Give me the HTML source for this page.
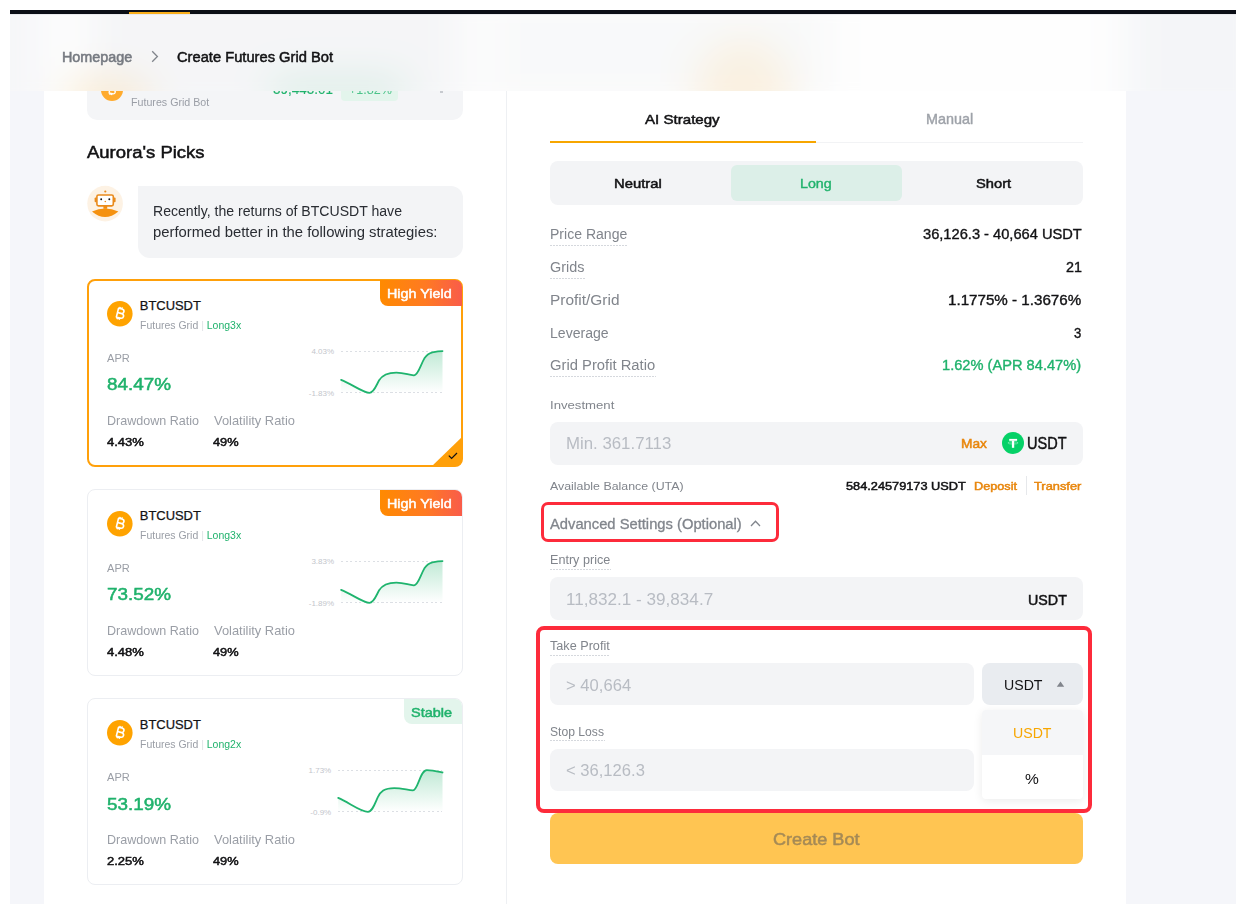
<!DOCTYPE html>
<html><head><meta charset="utf-8">
<style>
*{margin:0;padding:0;box-sizing:border-box;}
html,body{width:1236px;height:910px;overflow:hidden;background:#fff;}
body{position:relative;font-family:"Liberation Sans",sans-serif;color:#121214;}
.a{position:absolute;}
.t{position:absolute;white-space:nowrap;line-height:1;}
svg{position:absolute;overflow:visible;}
</style></head><body>
<div class="a" style="left:10px;top:14px;width:1226px;height:890px;background:#f5f6fa;"></div>
<div class="a" style="left:44px;top:14px;width:1082px;height:890px;background:#fff;"></div>
<div class="a" style="left:506px;top:91px;width:1px;height:813px;background:#eef0f3;"></div>
<div class="a" style="left:87px;top:50px;width:376px;height:70px;background:#f4f5f7;border-radius:10px;"></div>
<svg style="left:101.4px;top:79.2px" width="22" height="22" viewBox="0 0 24 24"><circle cx="12" cy="12" r="12" fill="#ffab2e"/><g transform="translate(12,12) rotate(14) translate(-12,-12)" fill="none" stroke="#fff" stroke-width="1.5" stroke-linejoin="round"><path d="M9.2 7.2h3.6c1.6 0 2.5 0.8 2.5 2.1s-0.9 2.1-2.5 2.1H9.6M9.6 11.4h3.6c1.8 0 2.8 0.9 2.8 2.2s-1 2.3-2.8 2.3H9.2M9.6 7.2v8.7M10.8 5.6v1.6M12.8 5.6v1.6M10.8 15.9v1.7M12.8 15.9v1.7"/></g></svg>
<div class="t" style="left:131.00px;top:98px;font-size:10.11px;color:#9a9ea6;transform:scaleX(1.057);transform-origin:left;">Futures Grid Bot</div>
<div class="t" style="left:273.23px;top:82px;font-size:14.17px;-webkit-text-stroke:0.15px #20b26c;color:#20b26c;transform:scaleX(0.951);transform-origin:left;">39,443.01</div>
<div class="a" style="left:341px;top:78px;width:57px;height:23px;background:#e3f5ec;border-radius:4px;"></div>
<div class="t" style="left:349.00px;top:83px;font-size:13.66px;color:#4cc38a;transform:scaleX(0.921);transform-origin:left;">+1.82%</div>
<div class="a" style="left:440px;top:91px;width:2.5px;height:2px;background:#9aa0a8;opacity:0.5;"></div>
<div class="t" style="left:87.35px;top:145px;font-size:16.62px;-webkit-text-stroke:0.5px #121214;color:#121214;transform:scaleX(1.113);transform-origin:left;">Aurora's Picks</div>
<svg style="left:87px;top:186px" width="36" height="36" viewBox="0 0 36 36">
<circle cx="18.1" cy="17.6" r="17.8" fill="#fdf2e4"/>
<circle cx="18.3" cy="5.5" r="1.1" fill="#e98a1c"/>
<rect x="7.6" y="11.6" width="2.2" height="4.6" rx="1" fill="#e98a1c"/>
<rect x="26.4" y="11.6" width="2.2" height="4.6" rx="1" fill="#e98a1c"/>
<rect x="9.9" y="9.0" width="16.4" height="10.9" rx="1.6" fill="#fff" stroke="#e98a1c" stroke-width="1.6"/>
<circle cx="14.2" cy="13.3" r="0.95" fill="#121214"/>
<circle cx="22.3" cy="13.3" r="0.95" fill="#121214"/>
<circle cx="18.3" cy="15.5" r="0.8" fill="#e98a1c"/>
<rect x="16.4" y="20" width="3.8" height="2.8" fill="#f08c12"/>
<path d="M5 25.4 Q18 19.4 31.4 25.4 Q18 36.4 5 25.4Z" fill="#f5910f"/>
</svg>
<div class="a" style="left:138px;top:185.5px;width:324.5px;height:72.10000000000002px;background:#f3f4f6;border-radius:0 12px 12px 12px;"></div>
<div class="t" style="left:152.80px;top:204px;font-size:14.35px;color:#2a2d33;transform:scaleX(0.981);transform-origin:left;">Recently, the returns of BTCUSDT have</div>
<div class="t" style="left:152.80px;top:225px;font-size:14.35px;color:#2a2d33;transform:scaleX(1.034);transform-origin:left;">performed better in the following strategies:</div>
<div class="a" style="left:87px;top:279px;width:376px;height:188px;border:2px solid #ffa00a;border-radius:8px;background:#fff;"></div>
<div class="a" style="left:380px;top:280px;width:82px;height:26px;background:linear-gradient(90deg,#ff8a00 0%,#ff7a22 55%,#f95c4a 100%);border-radius:0 7px 0 8px;"></div>
<div class="t" style="left:387.45px;top:287px;font-size:13.34px;-webkit-text-stroke:0.5px #fff;color:#fff;transform:scaleX(1.077);transform-origin:left;">High Yield</div>
<svg style="left:106.8px;top:301.4px" width="25.6" height="25.6" viewBox="0 0 24 24"><circle cx="12" cy="12" r="12" fill="#ffa300"/><g transform="translate(12,12) rotate(14) translate(-12,-12)" fill="none" stroke="#fff" stroke-width="1.5" stroke-linejoin="round"><path d="M9.2 7.2h3.6c1.6 0 2.5 0.8 2.5 2.1s-0.9 2.1-2.5 2.1H9.6M9.6 11.4h3.6c1.8 0 2.8 0.9 2.8 2.2s-1 2.3-2.8 2.3H9.2M9.6 7.2v8.7M10.8 5.6v1.6M12.8 5.6v1.6M10.8 15.9v1.7M12.8 15.9v1.7"/></g></svg>
<div class="t" style="left:139.78px;top:300px;font-size:12.95px;-webkit-text-stroke:0.25px #121214;color:#121214;">BTCUSDT</div>
<div class="t" style="left:139.90px;top:321px;font-size:10.25px;color:#9a9ea6;transform:scaleX(1.022);transform-origin:left;">Futures Grid <span style="color:#dfe1e5">|</span> <span style="color:#20b26c">Long3x</span></div>
<div class="t" style="left:107.20px;top:353px;font-size:11.34px;color:#9a9ea6;transform:scaleX(0.982);transform-origin:left;">APR</div>
<div class="t" style="left:106.95px;top:377px;font-size:16.62px;-webkit-text-stroke:0.5px #20b26c;color:#20b26c;transform:scaleX(1.136);transform-origin:left;">84.47%</div>
<div class="t" style="left:107.20px;top:416px;font-size:11.89px;color:#9a9ea6;transform:scaleX(1.057);transform-origin:left;">Drawdown Ratio</div>
<div class="t" style="left:213.60px;top:416px;font-size:11.89px;color:#9a9ea6;transform:scaleX(1.085);transform-origin:left;">Volatility Ratio</div>
<div class="t" style="left:106.95px;top:437px;font-size:11.29px;-webkit-text-stroke:0.5px #121214;color:#121214;transform:scaleX(1.154);transform-origin:left;">4.43%</div>
<div class="t" style="left:213.35px;top:437px;font-size:11.29px;-webkit-text-stroke:0.5px #121214;color:#121214;transform:scaleX(1.135);transform-origin:left;">49%</div>
<div class="a" style="left:341.1px;top:350.6px;width:101.39999999999998px;height:1.0px;background:repeating-linear-gradient(90deg,#dcdfe4 0 2px,transparent 2px 4.5px);"></div>
<div class="a" style="left:341.1px;top:392.3px;width:101.39999999999998px;height:1.0px;background:repeating-linear-gradient(90deg,#dcdfe4 0 2px,transparent 2px 4.5px);"></div>
<div class="t" style="right:901.9px;top:348.0px;font-size:8px;color:#c3c6cc;">4.03%</div>
<div class="t" style="right:901.9px;top:390.0px;font-size:8px;color:#c3c6cc;">-1.83%</div>
<svg style="left:0;top:0" width="1236" height="910"><defs><linearGradient id="gr1" x1="0" y1="0" x2="0" y2="1"><stop offset="0" stop-color="#20b26c" stop-opacity="0.28"/><stop offset="1" stop-color="#20b26c" stop-opacity="0"/></linearGradient></defs><path d="M341.10 379.87 C351.24 383.63 362.90 392.80 369.49 392.80 C374.06 392.80 376.59 384.46 379.12 380.29 C381.66 376.12 385.72 372.58 396.36 372.58 C404.98 372.58 409.04 375.49 414.11 375.29 C418.16 375.08 420.19 365.69 424.25 358.61 C427.29 354.02 429.32 353.19 432.36 352.35 C436.42 351.52 439.46 351.10 442.50 351.10 L442.50 392.80 L341.10 392.80 Z" fill="url(#gr1)" transform="translate(0,0)" /><path d="M341.10 379.87 C351.24 383.63 362.90 392.80 369.49 392.80 C374.06 392.80 376.59 384.46 379.12 380.29 C381.66 376.12 385.72 372.58 396.36 372.58 C404.98 372.58 409.04 375.49 414.11 375.29 C418.16 375.08 420.19 365.69 424.25 358.61 C427.29 354.02 429.32 353.19 432.36 352.35 C436.42 351.52 439.46 351.10 442.50 351.10" fill="none" stroke="#1fb46e" stroke-width="1.8" stroke-linecap="round"/></svg>
<svg style="left:432px;top:437px" width="31" height="30" viewBox="0 0 31 30"><path d="M30 0 L30 22 Q30 29 23 29 L0 29 Z" fill="#ffa00a"/><path d="M16.8 18.6 L19.6 21.4 L25 16" fill="none" stroke="#121214" stroke-width="1.25"/></svg>
<div class="a" style="left:87px;top:489px;width:376px;height:187px;border:1px solid #eceef2;border-radius:8px;background:#fff;"></div>
<div class="a" style="left:380px;top:490px;width:82px;height:26px;background:linear-gradient(90deg,#ff8a00 0%,#ff7a22 55%,#f95c4a 100%);border-radius:0 7px 0 8px;"></div>
<div class="t" style="left:387.45px;top:497px;font-size:13.34px;-webkit-text-stroke:0.5px #fff;color:#fff;transform:scaleX(1.077);transform-origin:left;">High Yield</div>
<svg style="left:106.8px;top:511.4px" width="25.6" height="25.6" viewBox="0 0 24 24"><circle cx="12" cy="12" r="12" fill="#ffa300"/><g transform="translate(12,12) rotate(14) translate(-12,-12)" fill="none" stroke="#fff" stroke-width="1.5" stroke-linejoin="round"><path d="M9.2 7.2h3.6c1.6 0 2.5 0.8 2.5 2.1s-0.9 2.1-2.5 2.1H9.6M9.6 11.4h3.6c1.8 0 2.8 0.9 2.8 2.2s-1 2.3-2.8 2.3H9.2M9.6 7.2v8.7M10.8 5.6v1.6M12.8 5.6v1.6M10.8 15.9v1.7M12.8 15.9v1.7"/></g></svg>
<div class="t" style="left:139.78px;top:510px;font-size:12.95px;-webkit-text-stroke:0.25px #121214;color:#121214;">BTCUSDT</div>
<div class="t" style="left:139.90px;top:531px;font-size:10.25px;color:#9a9ea6;transform:scaleX(1.022);transform-origin:left;">Futures Grid <span style="color:#dfe1e5">|</span> <span style="color:#20b26c">Long3x</span></div>
<div class="t" style="left:107.20px;top:563px;font-size:11.34px;color:#9a9ea6;transform:scaleX(0.982);transform-origin:left;">APR</div>
<div class="t" style="left:106.95px;top:587px;font-size:16.62px;-webkit-text-stroke:0.5px #20b26c;color:#20b26c;transform:scaleX(1.136);transform-origin:left;">73.52%</div>
<div class="t" style="left:107.20px;top:626px;font-size:11.89px;color:#9a9ea6;transform:scaleX(1.057);transform-origin:left;">Drawdown Ratio</div>
<div class="t" style="left:213.60px;top:626px;font-size:11.89px;color:#9a9ea6;transform:scaleX(1.085);transform-origin:left;">Volatility Ratio</div>
<div class="t" style="left:106.95px;top:647px;font-size:11.29px;-webkit-text-stroke:0.5px #121214;color:#121214;transform:scaleX(1.154);transform-origin:left;">4.48%</div>
<div class="t" style="left:213.35px;top:647px;font-size:11.29px;-webkit-text-stroke:0.5px #121214;color:#121214;transform:scaleX(1.135);transform-origin:left;">49%</div>
<div class="a" style="left:341.1px;top:560.6px;width:101.39999999999998px;height:1.0px;background:repeating-linear-gradient(90deg,#dcdfe4 0 2px,transparent 2px 4.5px);"></div>
<div class="a" style="left:341.1px;top:602.3px;width:101.39999999999998px;height:1.0px;background:repeating-linear-gradient(90deg,#dcdfe4 0 2px,transparent 2px 4.5px);"></div>
<div class="t" style="right:901.9px;top:558.0px;font-size:8px;color:#c3c6cc;">3.83%</div>
<div class="t" style="right:901.9px;top:600.0px;font-size:8px;color:#c3c6cc;">-1.89%</div>
<svg style="left:0;top:0" width="1236" height="910"><defs><linearGradient id="gr2" x1="0" y1="0" x2="0" y2="1"><stop offset="0" stop-color="#20b26c" stop-opacity="0.28"/><stop offset="1" stop-color="#20b26c" stop-opacity="0"/></linearGradient></defs><path d="M341.10 589.87 C351.24 593.63 362.90 602.80 369.49 602.80 C374.06 602.80 376.59 594.46 379.12 590.29 C381.66 586.12 385.72 582.58 396.36 582.58 C404.98 582.58 409.04 585.49 414.11 585.29 C418.16 585.08 420.19 575.70 424.25 568.61 C427.29 564.02 429.32 563.19 432.36 562.35 C436.42 561.52 439.46 561.10 442.50 561.10 L442.50 602.80 L341.10 602.80 Z" fill="url(#gr2)" transform="translate(0,0)" /><path d="M341.10 589.87 C351.24 593.63 362.90 602.80 369.49 602.80 C374.06 602.80 376.59 594.46 379.12 590.29 C381.66 586.12 385.72 582.58 396.36 582.58 C404.98 582.58 409.04 585.49 414.11 585.29 C418.16 585.08 420.19 575.70 424.25 568.61 C427.29 564.02 429.32 563.19 432.36 562.35 C436.42 561.52 439.46 561.10 442.50 561.10" fill="none" stroke="#1fb46e" stroke-width="1.8" stroke-linecap="round"/></svg>
<div class="a" style="left:87px;top:698px;width:376px;height:187px;border:1px solid #eceef2;border-radius:8px;background:#fff;"></div>
<div class="a" style="left:404px;top:699px;width:58px;height:25px;background:#e3f5ec;border-radius:0 7px 0 8px;"></div>
<div class="t" style="left:411.35px;top:706px;font-size:13.06px;-webkit-text-stroke:0.5px #20b26c;color:#20b26c;transform:scaleX(1.108);transform-origin:left;">Stable</div>
<svg style="left:106.8px;top:720.4px" width="25.6" height="25.6" viewBox="0 0 24 24"><circle cx="12" cy="12" r="12" fill="#ffa300"/><g transform="translate(12,12) rotate(14) translate(-12,-12)" fill="none" stroke="#fff" stroke-width="1.5" stroke-linejoin="round"><path d="M9.2 7.2h3.6c1.6 0 2.5 0.8 2.5 2.1s-0.9 2.1-2.5 2.1H9.6M9.6 11.4h3.6c1.8 0 2.8 0.9 2.8 2.2s-1 2.3-2.8 2.3H9.2M9.6 7.2v8.7M10.8 5.6v1.6M12.8 5.6v1.6M10.8 15.9v1.7M12.8 15.9v1.7"/></g></svg>
<div class="t" style="left:139.78px;top:719px;font-size:12.95px;-webkit-text-stroke:0.25px #121214;color:#121214;">BTCUSDT</div>
<div class="t" style="left:139.90px;top:740px;font-size:10.25px;color:#9a9ea6;transform:scaleX(1.022);transform-origin:left;">Futures Grid <span style="color:#dfe1e5">|</span> <span style="color:#20b26c">Long2x</span></div>
<div class="t" style="left:107.20px;top:772px;font-size:11.34px;color:#9a9ea6;transform:scaleX(0.982);transform-origin:left;">APR</div>
<div class="t" style="left:106.95px;top:797px;font-size:16.62px;-webkit-text-stroke:0.5px #20b26c;color:#20b26c;transform:scaleX(1.136);transform-origin:left;">53.19%</div>
<div class="t" style="left:107.20px;top:835px;font-size:11.89px;color:#9a9ea6;transform:scaleX(1.057);transform-origin:left;">Drawdown Ratio</div>
<div class="t" style="left:213.60px;top:835px;font-size:11.89px;color:#9a9ea6;transform:scaleX(1.085);transform-origin:left;">Volatility Ratio</div>
<div class="t" style="left:106.95px;top:856px;font-size:11.29px;-webkit-text-stroke:0.5px #121214;color:#121214;transform:scaleX(1.154);transform-origin:left;">2.25%</div>
<div class="t" style="left:213.35px;top:856px;font-size:11.29px;-webkit-text-stroke:0.5px #121214;color:#121214;transform:scaleX(1.135);transform-origin:left;">49%</div>
<div class="a" style="left:338.2px;top:769.6px;width:104.30000000000001px;height:1.0px;background:repeating-linear-gradient(90deg,#dcdfe4 0 2px,transparent 2px 4.5px);"></div>
<div class="a" style="left:338.2px;top:811.3px;width:104.30000000000001px;height:1.0px;background:repeating-linear-gradient(90deg,#dcdfe4 0 2px,transparent 2px 4.5px);"></div>
<div class="t" style="right:904.8px;top:767.0px;font-size:8px;color:#c3c6cc;">1.73%</div>
<div class="t" style="right:904.8px;top:809.0px;font-size:8px;color:#c3c6cc;">-0.9%</div>
<svg style="left:0;top:0" width="1236" height="910"><defs><linearGradient id="gr3" x1="0" y1="0" x2="0" y2="1"><stop offset="0" stop-color="#20b26c" stop-opacity="0.28"/><stop offset="1" stop-color="#20b26c" stop-opacity="0"/></linearGradient></defs><path d="M338.20 797.87 C348.63 802.21 360.62 811.80 367.93 811.80 C372.62 811.80 375.23 802.63 377.83 797.20 C380.44 791.78 384.09 788.03 394.21 788.03 C401.82 788.03 409.12 790.53 412.98 790.37 C417.99 790.37 420.08 770.10 426.86 770.10 C432.07 770.10 437.28 771.35 442.50 772.48 L442.50 811.80 L338.20 811.80 Z" fill="url(#gr3)" transform="translate(0,0)" /><path d="M338.20 797.87 C348.63 802.21 360.62 811.80 367.93 811.80 C372.62 811.80 375.23 802.63 377.83 797.20 C380.44 791.78 384.09 788.03 394.21 788.03 C401.82 788.03 409.12 790.53 412.98 790.37 C417.99 790.37 420.08 770.10 426.86 770.10 C432.07 770.10 437.28 771.35 442.50 772.48" fill="none" stroke="#1fb46e" stroke-width="1.8" stroke-linecap="round"/></svg>
<div class="t" style="left:645.35px;top:113px;font-size:13.61px;-webkit-text-stroke:0.5px #121214;color:#121214;transform:scaleX(1.109);transform-origin:left;">AI Strategy</div>
<div class="t" style="left:925.60px;top:113px;font-size:13.73px;-webkit-text-stroke:0.4px #9ea2a9;color:#9ea2a9;transform:scaleX(1.048);transform-origin:left;">Manual</div>
<div class="a" style="left:550px;top:142px;width:533px;height:1px;background:#f2f3f5;"></div>
<div class="a" style="left:550px;top:141px;width:266px;height:2px;background:#f7a600;"></div>
<div class="a" style="left:550px;top:161px;width:533px;height:43.5px;background:#f3f4f6;border-radius:8px;"></div>
<div class="a" style="left:731px;top:165px;width:170.5px;height:36px;background:#dcefe8;border-radius:6px;"></div>
<div class="t" style="left:614.15px;top:177px;font-size:13.34px;-webkit-text-stroke:0.5px #121214;color:#121214;transform:scaleX(1.113);transform-origin:left;">Neutral</div>
<div class="t" style="left:800.10px;top:177px;font-size:13.46px;-webkit-text-stroke:0.4px #20b26c;color:#20b26c;transform:scaleX(1.058);transform-origin:left;">Long</div>
<div class="t" style="left:975.75px;top:177px;font-size:13.34px;-webkit-text-stroke:0.5px #121214;color:#121214;transform:scaleX(1.103);transform-origin:left;">Short</div>
<div class="t" style="left:550.30px;top:227px;font-size:14.21px;color:#81858c;transform:scaleX(0.989);transform-origin:left;">Price Range</div>
<div class="t" style="left:922.83px;top:228px;font-size:13.79px;-webkit-text-stroke:0.35px #121214;color:#121214;transform:scaleX(1.063);transform-origin:left;">36,126.3 - 40,664 USDT</div>
<div class="t" style="left:550.00px;top:260px;font-size:14.21px;color:#81858c;transform:scaleX(1.016);transform-origin:left;">Grids</div>
<div class="t" style="left:1065.73px;top:261px;font-size:13.79px;-webkit-text-stroke:0.35px #121214;color:#121214;transform:scaleX(1.039);transform-origin:left;">21</div>
<div class="t" style="left:550.00px;top:293px;font-size:14.21px;color:#81858c;transform:scaleX(1.087);transform-origin:left;">Profit/Grid</div>
<div class="t" style="left:948.43px;top:294px;font-size:13.79px;-webkit-text-stroke:0.35px #121214;color:#121214;transform:scaleX(1.100);transform-origin:left;">1.1775% - 1.3676%</div>
<div class="t" style="left:550.00px;top:326px;font-size:14.21px;color:#81858c;transform:scaleX(0.991);transform-origin:left;">Leverage</div>
<div class="t" style="left:1074.42px;top:327px;font-size:13.79px;-webkit-text-stroke:0.35px #121214;color:#121214;transform:scaleX(0.948);transform-origin:left;">3</div>
<div class="t" style="left:550.00px;top:358px;font-size:14.21px;color:#81858c;transform:scaleX(1.041);transform-origin:left;">Grid Profit Ratio</div>
<div class="t" style="left:942.43px;top:359px;font-size:13.79px;-webkit-text-stroke:0.35px #20b26c;color:#20b26c;transform:scaleX(1.062);transform-origin:left;">1.62% (APR 84.47%)</div>
<div class="a" style="left:550px;top:245px;width:78px;height:1px;background:repeating-linear-gradient(90deg,#d5d8dd 0 2px,transparent 2px 3px);"></div>
<div class="a" style="left:550px;top:278px;width:35px;height:1px;background:repeating-linear-gradient(90deg,#d5d8dd 0 2px,transparent 2px 3px);"></div>
<div class="a" style="left:550px;top:375.5px;width:106px;height:1.0px;background:repeating-linear-gradient(90deg,#d5d8dd 0 2px,transparent 2px 3px);"></div>
<div class="t" style="left:550.00px;top:400px;font-size:11.48px;color:#81858c;transform:scaleX(1.147);transform-origin:left;">Investment</div>
<div class="a" style="left:550px;top:422px;width:532.5px;height:43px;background:#f3f4f6;border-radius:8px;"></div>
<div class="t" style="left:565.50px;top:436px;font-size:15.58px;color:#b8bcc3;transform:scaleX(1.079);transform-origin:left;">Min. 361.7113</div>
<div class="t" style="left:960.55px;top:437px;font-size:13.20px;-webkit-text-stroke:0.5px #e8860c;color:#e8860c;transform:scaleX(1.042);transform-origin:left;">Max</div>
<svg style="left:1002px;top:432px" width="22" height="22" viewBox="0 0 22 22"><circle cx="11" cy="11" r="11" fill="#05d167"/><ellipse cx="11" cy="10.9" rx="5.1" ry="1.15" fill="none" stroke="#fff" stroke-width="0.7" opacity="0.55"/><rect x="7.2" y="6.9" width="7.9" height="1.9" fill="#fff"/><rect x="9.9" y="8.6" width="2.3" height="7.2" fill="#fff"/></svg>
<div class="t" style="left:1027.48px;top:436px;font-size:15.86px;-webkit-text-stroke:0.45px #121214;color:#121214;transform:scaleX(0.917);transform-origin:left;">USDT</div>
<div class="t" style="left:550.00px;top:481px;font-size:11.34px;color:#81858c;transform:scaleX(1.092);transform-origin:left;">Available Balance (UTA)</div>
<div class="t" style="left:845.55px;top:480px;font-size:11.70px;-webkit-text-stroke:0.5px #121214;color:#121214;transform:scaleX(1.091);transform-origin:left;">584.24579173 USDT</div>
<div class="t" style="left:974.45px;top:480px;font-size:11.70px;-webkit-text-stroke:0.5px #e8860c;color:#e8860c;transform:scaleX(1.086);transform-origin:left;">Deposit</div>
<div class="a" style="left:1026px;top:476px;width:1px;height:19px;background:#e6e8eb;"></div>
<div class="t" style="left:1034.25px;top:480px;font-size:11.70px;-webkit-text-stroke:0.5px #e8860c;color:#e8860c;transform:scaleX(1.098);transform-origin:left;">Transfer</div>
<div class="a" style="left:541.3px;top:502.4px;width:237.30000000000007px;height:39.89999999999998px;border:3.5px solid #fd2b3b;border-radius:7px;"></div>
<div class="t" style="left:549.95px;top:517px;font-size:13.99px;-webkit-text-stroke:0.3px #81858c;color:#81858c;transform:scaleX(1.054);transform-origin:left;">Advanced Settings (Optional)</div>
<svg style="left:750px;top:520px" width="11" height="7" viewBox="0 0 11 7"><path d="M1 6 L5.5 1.2 L10 6" fill="none" stroke="#81858c" stroke-width="1.3"/></svg>
<div class="t" style="left:550.00px;top:554px;font-size:12.02px;color:#81858c;transform:scaleX(1.049);transform-origin:left;">Entry price</div>
<div class="a" style="left:550px;top:569px;width:61px;height:1px;background:repeating-linear-gradient(90deg,#d5d8dd 0 2px,transparent 2px 3px);"></div>
<div class="a" style="left:550px;top:577.4px;width:532.5px;height:43.0px;background:#f3f4f6;border-radius:8px;"></div>
<div class="t" style="left:565.50px;top:592px;font-size:15.85px;color:#b8bcc3;transform:scaleX(1.080);transform-origin:left;">11,832.1 - 39,834.7</div>
<div class="t" style="left:1028.25px;top:592px;font-size:15.25px;-webkit-text-stroke:0.5px #121214;color:#121214;transform:scaleX(0.936);transform-origin:left;">USDT</div>
<div class="a" style="left:536px;top:625.5px;width:555.7px;height:187.79999999999995px;border:4px solid #fd2b3b;border-radius:8px;"></div>
<div class="t" style="left:550.00px;top:640px;font-size:12.71px;color:#81858c;transform:scaleX(0.995);transform-origin:left;">Take Profit</div>
<div class="a" style="left:550px;top:655px;width:60px;height:1px;background:repeating-linear-gradient(90deg,#d5d8dd 0 2px,transparent 2px 3px);"></div>
<div class="a" style="left:550px;top:662.8px;width:423.5px;height:42.700000000000045px;background:#f3f4f6;border-radius:8px;"></div>
<div class="t" style="left:565.50px;top:678px;font-size:15.85px;color:#b8bcc3;transform:scaleX(1.049);transform-origin:left;">&gt; 40,664</div>
<div class="a" style="left:982px;top:662.8px;width:100.5px;height:42.700000000000045px;background:#e9ecf0;border-radius:8px;"></div>
<div class="t" style="left:1003.70px;top:678px;font-size:14.89px;color:#121214;transform:scaleX(0.950);transform-origin:left;">USDT</div>
<svg style="left:1056px;top:681px" width="9" height="6" viewBox="0 0 9 6"><path d="M0.8 5.8 L4.5 0.6 L8.2 5.8Z" fill="#81858c"/></svg>
<div class="t" style="left:550.00px;top:726px;font-size:12.71px;color:#81858c;transform:scaleX(0.956);transform-origin:left;">Stop Loss</div>
<div class="a" style="left:550px;top:740.4px;width:55px;height:1.0px;background:repeating-linear-gradient(90deg,#d5d8dd 0 2px,transparent 2px 3px);"></div>
<div class="a" style="left:550px;top:748.8px;width:423.5px;height:42.700000000000045px;background:#f3f4f6;border-radius:8px;"></div>
<div class="t" style="left:565.50px;top:763px;font-size:15.85px;color:#b8bcc3;transform:scaleX(1.047);transform-origin:left;">&lt; 36,126.3</div>
<div class="a" style="left:982px;top:709.6px;width:100.5px;height:89.79999999999995px;background:#fff;box-shadow:0 2px 10px rgba(0,0,0,0.08);border-radius:4px;overflow:hidden;"></div>
<div class="a" style="left:982px;top:709.6px;width:100.5px;height:45.0px;background:#f5f6f8;border-radius:4px 4px 0 0;"></div>
<div class="t" style="left:1012.80px;top:725px;font-size:15.44px;color:#f7a600;transform:scaleX(0.916);transform-origin:left;">USDT</div>
<div class="t" style="left:1025.20px;top:772px;font-size:14.35px;color:#121214;transform:scaleX(1.082);transform-origin:left;">%</div>
<div class="a" style="left:550px;top:813px;width:532.5px;height:50.700000000000045px;background:#ffc552;border-radius:8px;"></div>
<div class="t" style="left:772.75px;top:831px;font-size:16.07px;-webkit-text-stroke:0.5px #a58a56;color:#a58a56;transform:scaleX(1.127);transform-origin:left;">Create Bot</div>
<div class="a" style="left:10px;top:14px;width:1226px;height:77px;overflow:hidden;background:#f6f7f9;">
<div class="a" style="left:-40px;top:-40px;width:1306px;height:157px;filter:blur(20px);">
 <div class="a" style="left:0px;top:0px;width:74px;height:157px;background:#f1f2f6;"></div>
 <div class="a" style="left:74px;top:0px;width:1082px;height:157px;background:#fff;"></div>
 <div class="a" style="left:1156px;top:0px;width:150px;height:157px;background:#eff1f5;"></div>
 <div class="a" style="left:117px;top:0px;width:376px;height:146px;background:#f0f1f4;border-radius:10px;"></div>
 <div class="a" style="left:92px;top:104px;width:90px;height:46px;background:#ffa300;border-radius:50%;opacity:0.26;"></div>
 <div class="a" style="left:300px;top:106px;width:135px;height:24px;background:#20b26c;opacity:0.26;border-radius:8px;"></div>
 <div class="a" style="left:520px;top:20px;width:340px;height:110px;background:#f0f1f4;opacity:0.6;"></div>
 <div class="a" style="left:725px;top:66px;width:96px;height:105px;background:#ffa300;opacity:0.17;border-radius:50%;"></div>
</div>
<div class="a" style="left:0;top:0;width:1226px;height:77px;background:rgba(252,252,253,0.4);"></div>
<div class="a" style="left:0;top:0;width:1226px;height:1px;background:#e9eaed;"></div>
</div>
<div class="a" style="left:10px;top:10px;width:1226px;height:4px;background:#0b0e16;"></div>
<div class="a" style="left:129px;top:12px;width:61px;height:2px;background:#f9ae1a;"></div>
<div class="t" style="left:61.83px;top:50px;font-size:14.23px;-webkit-text-stroke:0.55px #767a81;color:#767a81;transform:scaleX(1.010);transform-origin:left;">Homepage</div>
<svg style="left:151px;top:50px" width="8" height="13" viewBox="0 0 8 13"><path d="M1.2 1.2 L6.4 6.5 L1.2 11.8" fill="none" stroke="#81858c" stroke-width="1.3"/></svg>
<div class="t" style="left:177.15px;top:50px;font-size:14.29px;-webkit-text-stroke:0.5px #121214;color:#121214;transform:scaleX(1.029);transform-origin:left;">Create Futures Grid Bot</div>
</body></html>
